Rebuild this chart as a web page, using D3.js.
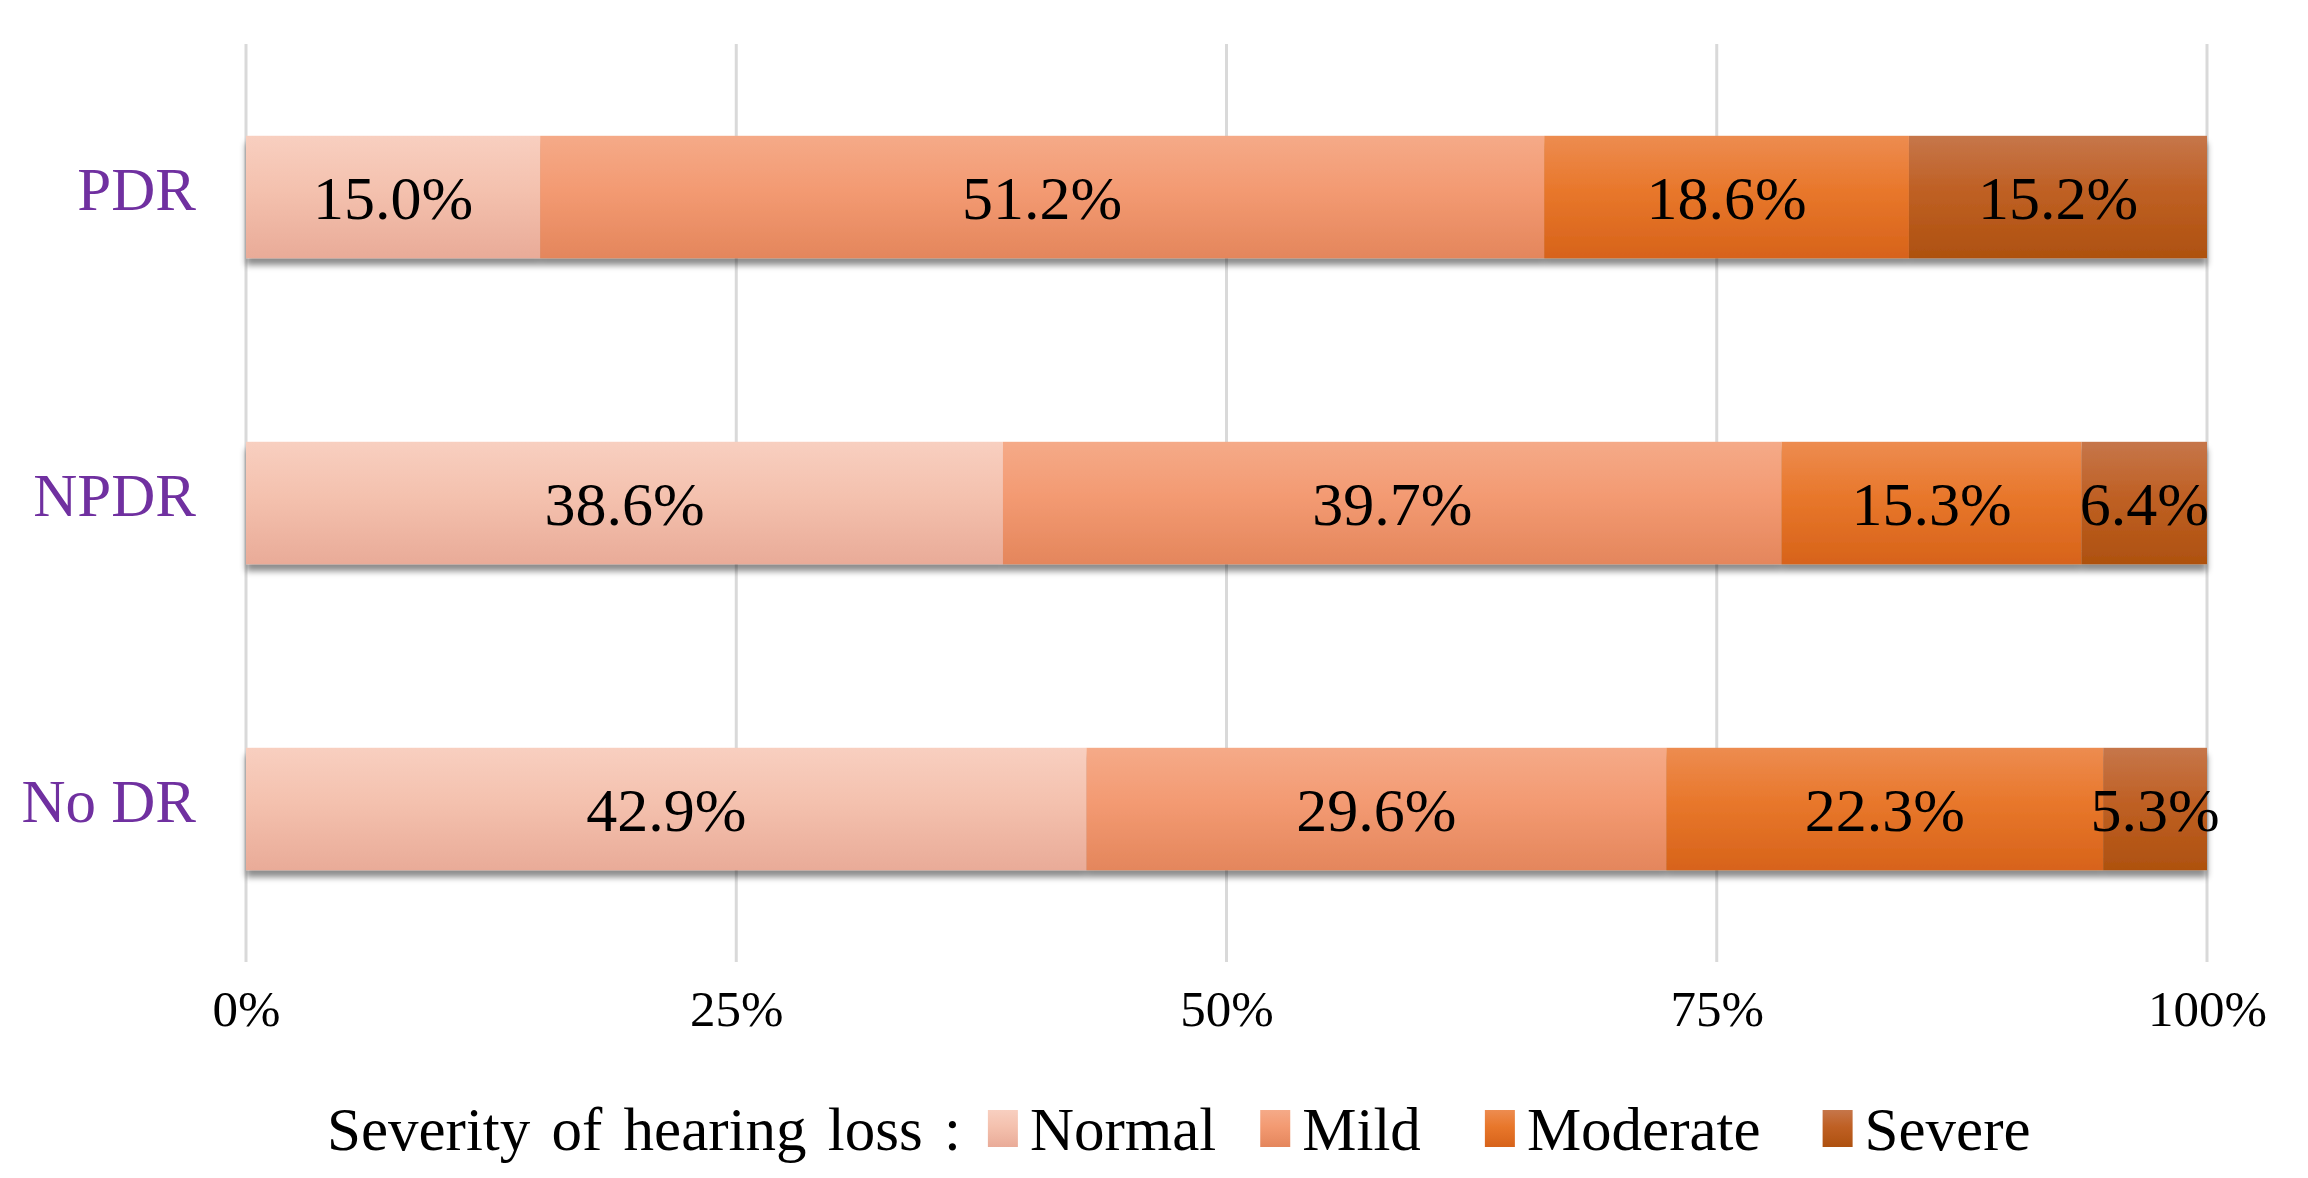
<!DOCTYPE html>
<html>
<head>
<meta charset="utf-8">
<script src="https://cdn.jsdelivr.net/npm/d3@7"></script>
<style>
	body { margin: 0; background: #fff; }
	text { font-family: "Liberation Serif", "Times New Roman", serif; }
</style>
</head>
<body>
<script>
var groups = ['PDR', 'NPDR', 'No DR']
var severities = ['Normal', 'Mild', 'Moderate', 'Severe']
var normal_vals = [15.0, 38.6, 42.9]
var mild_vals = [51.2, 39.7, 29.6]
var moderate_vals = [18.6, 15.3, 22.3]
var severe_vals = [15.2, 6.4, 5.3]
var tick_vals = [0, 0.25, 0.5, 0.75, 1]
var legend_title = 'Severity of hearing loss :'

// gradient stops per severity: top, middle, bottom
var sev_colors = {
	'Normal':   ['#f8cfc0', '#f4c1ae', '#e9ab98'],
	'Mild':     ['#f5aa88', '#f39a72', '#e4865c'],
	'Moderate': ['#ed8c50', '#e8772b', '#d7631a'],
	'Severe':   ['#c6764a', '#bf6024', '#ae510f']
}

var rows = groups.map((g, i) => ({
	group: g,
	Normal: normal_vals[i],
	Mild: mild_vals[i],
	Moderate: moderate_vals[i],
	Severe: severe_vals[i]
}))

var W = 2308, H = 1178
var left_pad = 246, right_pad = 101, top_pad = 44, plot_bottom = 962
var plot_w = W - left_pad - right_pad, plot_h = plot_bottom - top_pad

var svg = d3.select('body').append('svg').attr('width', W).attr('height', H)
var defs = svg.append('defs')

severities.forEach((s, i) => {
	var lg = defs.append('linearGradient').attr('id', 'grad' + i)
		.attr('x1', 0).attr('y1', 0).attr('x2', 0).attr('y2', 1)
	lg.append('stop').attr('offset', '0%').attr('stop-color', sev_colors[s][0])
	lg.append('stop').attr('offset', '45%').attr('stop-color', sev_colors[s][1])
	lg.append('stop').attr('offset', '100%').attr('stop-color', sev_colors[s][2])
})

var shadow = defs.append('filter').attr('id', 'shadow')
	.attr('x', '-2%').attr('y', '-20%').attr('width', '104%').attr('height', '150%')
shadow.append('feDropShadow').attr('dx', 0).attr('dy', 7).attr('stdDeviation', 3)
	.attr('flood-color', '#000').attr('flood-opacity', 0.45)

var g = svg.append('g').attr('transform', 'translate(' + left_pad + ',' + top_pad + ')')

var x = d3.scaleLinear().domain([0, 1]).range([0, plot_w])
var y = d3.scaleBand().domain(groups).range([0, plot_h]).paddingInner(0.6).paddingOuter(0.3)

// gridlines
g.append('g').attr('id', 'grid')
	.selectAll('line').data(tick_vals).enter().append('line')
	.attr('x1', d => x(d)).attr('x2', d => x(d))
	.attr('y1', 0).attr('y2', plot_h)
	.attr('stroke', '#d9d9d9').attr('stroke-width', 3)

// x axis labels
var xaxis = g.append('g').attr('id', 'xaxis')
	.attr('transform', 'translate(0,' + plot_h + ')')
	.call(d3.axisBottom(x).tickValues(tick_vals).tickFormat(d3.format('.0%')).tickSize(0).tickPadding(28))
xaxis.select('.domain').remove()
xaxis.selectAll('text').attr('font-size', 51).attr('fill', '#000')
	.style('font-family', '"Liberation Serif", serif')

// y axis labels
var yaxis = g.append('g').attr('id', 'yaxis')
	.call(d3.axisLeft(y).tickSize(0).tickPadding(50))
yaxis.select('.domain').remove()
yaxis.selectAll('text').attr('font-size', 61).attr('fill', '#7030a0').attr('dy', '0.22em')
	.style('font-family', '"Liberation Serif", serif')

var stacked = d3.stack().keys(severities).offset(d3.stackOffsetExpand)(rows)

var bars = g.append('g').attr('id', 'bars')
var bar_rows = bars.selectAll('.bar_row').data(groups).enter().append('g')
	.attr('class', 'bar_row').attr('filter', 'url(#shadow)')

bar_rows.each(function (grp, gi) {
	d3.select(this).selectAll('rect').data(stacked).enter().append('rect')
		.attr('x', s => x(s[gi][0]))
		.attr('y', y(grp))
		.attr('width', s => x(s[gi][1]) - x(s[gi][0]))
		.attr('height', y.bandwidth())
		.attr('fill', (s, si) => 'url(#grad' + si + ')')
})

// value labels
var labels = g.append('g').attr('id', 'labels')
stacked.forEach(s => {
	s.forEach((seg, gi) => {
		labels.append('text')
			.attr('x', x((seg[0] + seg[1]) / 2))
			.attr('y', y(groups[gi]) + y.bandwidth() / 2)
			.attr('dy', '0.36em')
			.attr('text-anchor', 'middle')
			.attr('font-size', 62)
			.attr('fill', '#000')
			.text(seg.data[s.key].toFixed(1) + '%')
	})
})

// legend
var legend = svg.append('g').attr('id', 'legend').attr('transform', 'translate(0,1150)')
var lt = legend.append('text').attr('x', 327).attr('y', 0)
	.attr('font-size', 61).attr('word-spacing', 6).attr('fill', '#000').text(legend_title)
var cx = 327 + lt.node().getComputedTextLength() + 27
var gaps = [44, 64, 62, 0]
severities.forEach((s, i) => {
	legend.append('rect').attr('x', cx).attr('y', -40).attr('width', 30).attr('height', 37)
		.attr('fill', 'url(#grad' + i + ')')
	var t = legend.append('text').attr('x', cx + 42).attr('y', 0)
		.attr('font-size', 61).attr('fill', '#000').text(s)
	cx = cx + 42 + t.node().getComputedTextLength() + gaps[i]
})
</script>
</body>
</html>
